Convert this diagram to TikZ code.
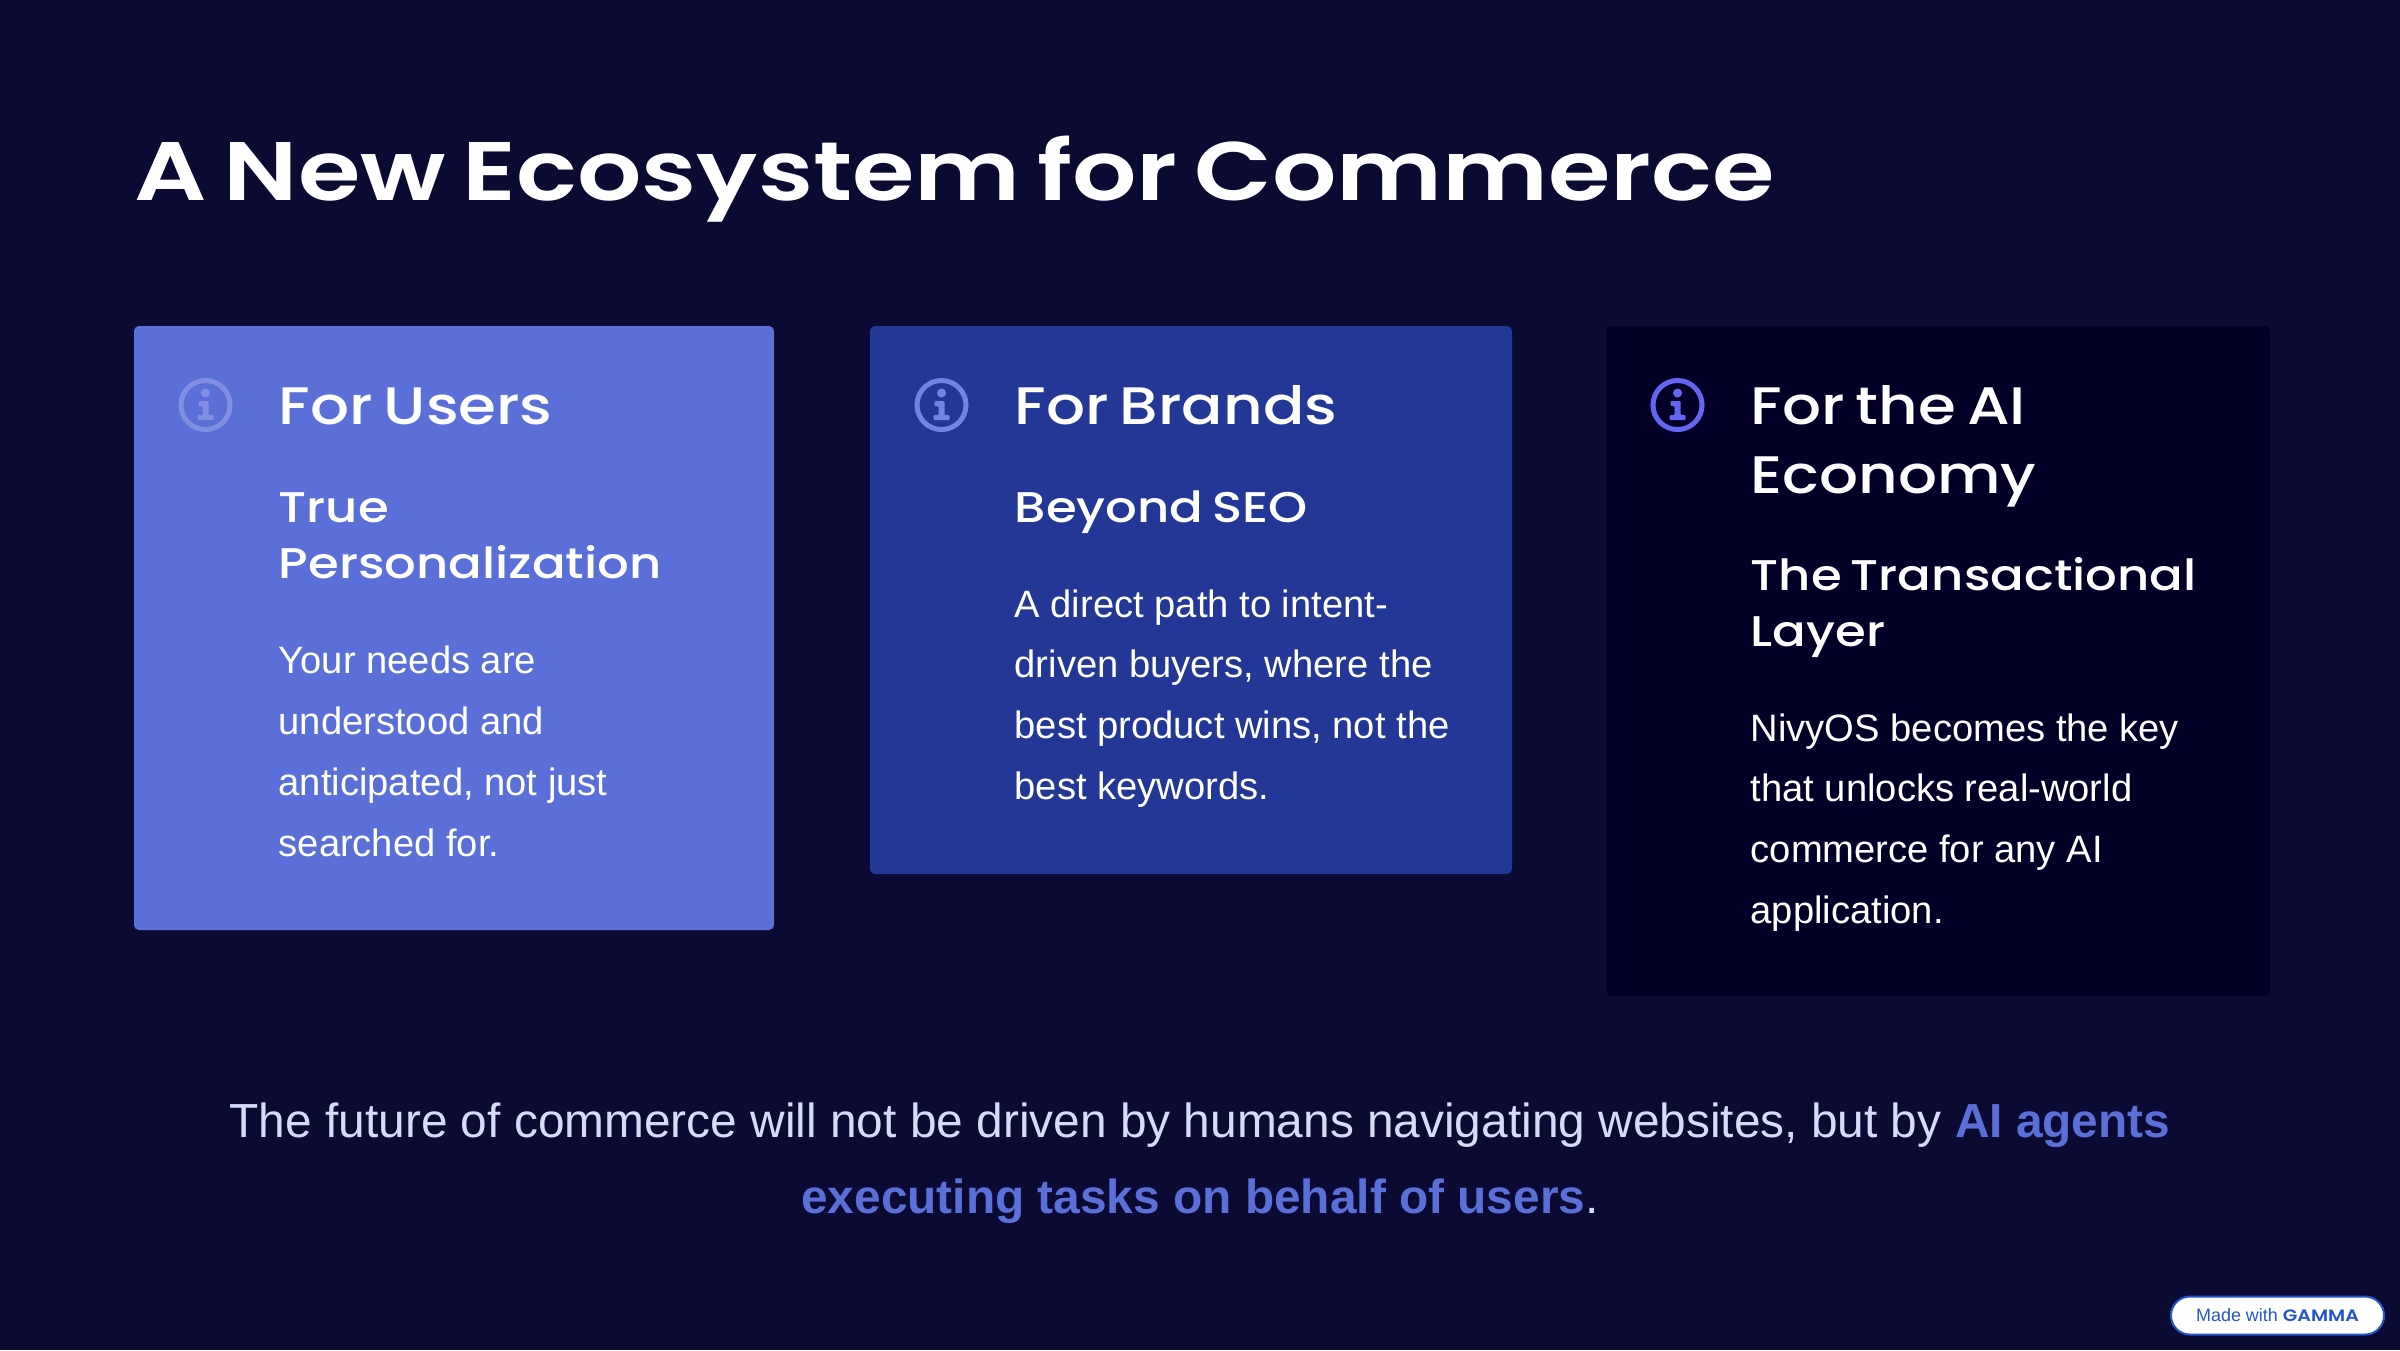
\documentclass[tikz,border=0pt]{standalone}
\usepackage{fontspec}
\setmainfont{Liberation Sans}
\newfontfamily\titlefont[FakeStretch=1.218, WordSpace=.7]{Poppins SemiBold}
\newfontfamily\headfont[FakeStretch=1.16, WordSpace=.7]{Poppins Medium}
\newfontfamily\badgefont[FakeStretch=1.15]{Poppins}[BoldFont={* SemiBold}]
\definecolor{pagefill}{RGB}{11, 10, 51}
\definecolor{cardone}{RGB}{90, 111, 216}
\definecolor{cardtwo}{RGB}{35, 55, 150}
\definecolor{cardthree}{RGB}{3, 0, 40}
\definecolor{iconone}{RGB}{128, 143, 228}
\definecolor{icontwo}{RGB}{114, 132, 226}
\definecolor{iconthree}{RGB}{100, 102, 240}
\definecolor{closetext}{RGB}{214, 220, 248}
\definecolor{gammablue}{RGB}{35, 85, 205}
\tikzset{
    x=.01cm, y=-.01cm,
    cardbox/.style={rounded corners=.05cm},
    heading/.style={anchor=base west, inner sep=0pt, align=left, text=white,
        font=\headfont\fontsize{15pt}{19.4pt}\selectfont},
    subheading/.style={anchor=base west, inner sep=0pt, align=left, text=white,
        font=\headfont\fontsize{12.2pt}{15.65pt}\selectfont},
    bodytext/.style={anchor=base west, inner sep=0pt, align=left, text=white,
        font=\fontsize{10.85pt}{17.3pt}\selectfont},
    infoicon/.pic={
        \draw[line width=.05cm] (0, 0) circle (.245cm);
        \fill (0, -12) circle (.045cm);
        \fill[rounded corners=.01cm] (-7, -4) -- (3, -4) -- (3, 10) -- (8, 10)
            -- (8, 15) -- (-8, 15) -- (-8, 10) -- (-3, 10) -- (-3, 1) -- (-7, 1)
            -- cycle;
    },
}
\begin{document}
\begin{tikzpicture}
        \fill[pagefill] (0, 0) rectangle (2400, 1350);
        \node[anchor=base west, inner sep=0pt, text=white,
            font=\titlefont\fontsize{23.6pt}{30pt}\selectfont]
            (title) at (134, 200) {A New Ecosystem for Commerce};
        \fill[cardbox, cardone] (134, 326) rectangle (774, 930);
        \fill[cardbox, cardtwo] (870, 326) rectangle (1512, 874);
        \fill[cardbox, cardthree] (1606, 326) rectangle (2270, 996);
        \pic[color=iconone] at (205.5, 405) {infoicon};
        \pic[color=icontwo] at (941.5, 405) {infoicon};
        \pic[color=iconthree] at (1677.5, 405) {infoicon};
        % users
        \node[heading] (usershead) at (278, 424.5) {For Users};
        \node[subheading] (userssub) at (278, 578) {True\\Personalization};
        \node[bodytext] (usersbody) at (278, 856)
            {Your needs are\\understood and\\anticipated, not just\\searched for.};
        % brands
        \node[heading] (brandshead) at (1014, 424.5) {For Brands};
        \node[subheading] (brandssub) at (1014, 522.5) {Beyond SEO};
        \node[bodytext] (brandsbody) at (1014, 799.5)
            {A direct path to intent-\\driven buyers, where the\\best product wins, not the\\best keywords.};
        % ai economy
        \node[heading] (aihead) at (1750, 493) {For the AI\\Economy};
        \node[subheading] (aisub) at (1750, 646) {The Transactional\\Layer};
        \node[bodytext] (aibody) at (1750, 923.5)
            {NivyOS becomes the key\\that unlocks real-world\\commerce for any AI\\application.};
        \node[anchor=base, inner sep=0pt, align=center, text=closetext,
            font=\fontsize{13.6pt}{21.4pt}\selectfont] (closing) at (1200, 1213)
            {The future of commerce will not be driven by humans navigating websites, but by \textcolor{cardone}{\bfseries AI agents}\\\textcolor{cardone}{\bfseries executing tasks on behalf of users}.};
        \node[draw=gammablue, fill=white, rounded corners=.19cm, line width=.02cm,
            minimum width=2.13cm, minimum height=.38cm, inner sep=0pt,
            text=gammablue, font=\fontsize{5.1pt}{6pt}\selectfont]
            (badge) at (2277.5, 1315.5) {Made with {\badgefont\fontsize{4.7pt}{6pt}\selectfont\bfseries GAMMA}};
    \end{tikzpicture}
\end{document}
